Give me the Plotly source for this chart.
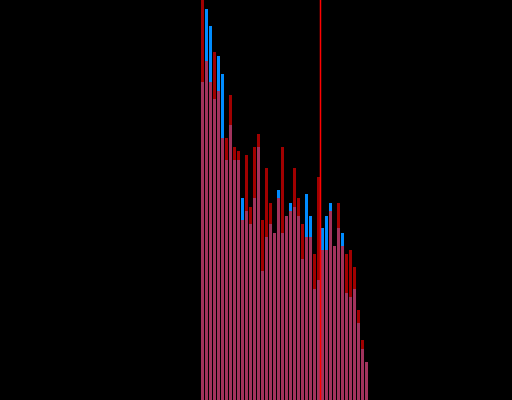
import plotly.graph_objects as go

# bin index (center) for each histogram bar
bins = list(range(42))

# heights of the blue distribution (drawn first)
blue_counts = [318, 391, 374, 301, 344, 326, 240, 275, 240, 240,
               202, 189, 176, 202, 253, 129, 163, 176, 167, 210,
               167, 184, 197, 193, 184, 141, 206, 184, 111, 120,
               172, 184, 197, 154, 172, 167, 107, 103, 111, 77,
               51, 38]

# heights of the red distribution (drawn on top, translucent)
red_counts = [415, 339, 318, 348, 309, 262, 262, 305, 253, 249,
              180, 245, 193, 253, 266, 180, 232, 197, 167, 202,
              253, 184, 189, 232, 202, 176, 163, 163, 146, 223,
              150, 150, 189, 154, 197, 154, 146, 150, 133, 90,
              60, 38]

# position of the vertical marker line (in bin units)
marker_x = 29.5

fig = go.Figure()
fig.add_trace(go.Bar(x=bins, y=blue_counts, width=0.75,
                     marker=dict(color="rgb(0,140,255)", line=dict(width=0))))
fig.add_trace(go.Bar(x=bins, y=red_counts, width=0.75, opacity=0.63,
                     marker=dict(color="rgb(255,0,0)", line=dict(width=0))))

fig.add_shape(type="line", xref="x", yref="paper", x0=marker_x, x1=marker_x,
              y0=0, y1=1, line=dict(color="rgb(255,0,0)", width=1.5), layer="above")

fig.update_layout(
    width=512, height=400,
    barmode="overlay",
    showlegend=False,
    paper_bgcolor="black", plot_bgcolor="black",
    margin=dict(l=0, r=0, t=0, b=0),
    xaxis=dict(range=[-50.625, 77.375], visible=False, showgrid=False, zeroline=False),
    yaxis=dict(range=[0, 400], visible=False, showgrid=False, zeroline=False),
)

fig.write_html(
    "out.html",
    config={"displayModeBar": False, "staticPlot": True},
    post_script="document.body.style.margin='0';document.body.style.background='black';",
)
